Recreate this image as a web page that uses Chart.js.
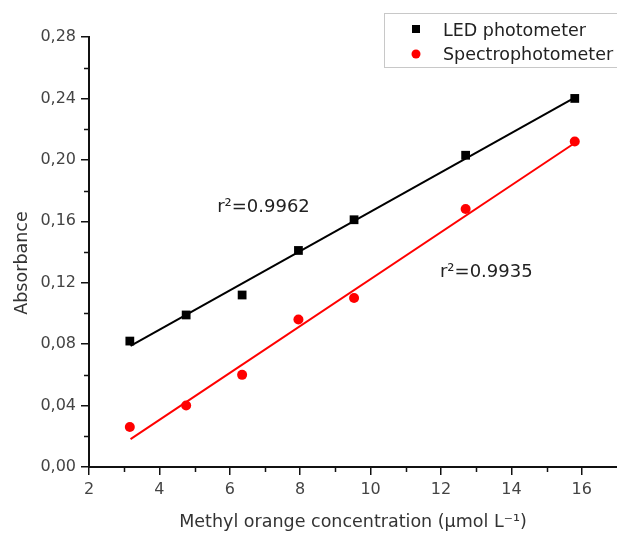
<!DOCTYPE html>
<html>
<head>
<meta charset="utf-8">
<script src="https://cdn.jsdelivr.net/npm/chart.js@4.4.0/dist/chart.umd.min.js"></script>
<style>
  html, body { margin: 0; padding: 0; background: #fff; overflow: hidden; }
  #wrap { width: 617px; height: 535px; }
</style>
</head>
<body>
<div id="wrap"><canvas id="myChart" width="617" height="535"></canvas></div>
<script>
// values
var concentration = [3.16, 4.76, 6.35, 7.95, 9.53, 12.7, 15.8];
var ledValues = [0.082, 0.099, 0.112, 0.141, 0.161, 0.203, 0.240];
var spectroValues = [0.026, 0.040, 0.060, 0.096, 0.110, 0.168, 0.212];

// fitted lines, end points as drawn
var fitX = [3.18, 15.8];
var ledFit = [0.0788, 0.2405];
var spectroFit = [0.0182, 0.2110];

var xTicks = [2, 4, 6, 8, 10, 12, 14, 16];
var yTicks = [0, 0.04, 0.08, 0.12, 0.16, 0.20, 0.24, 0.28];

var seriesNames = ['LED photometer', 'Spectrophotometer'];
var r2Labels = ['r\u00B2=0.9962', 'r\u00B2=0.9935'];

var FONT = 'DejaVu Sans';

function toPoints(xs, ys) {
    return xs.map(function (x, i) { return { x: x, y: ys[i] }; });
}

var extras = {
    id: 'extras',
    afterDraw: function (chart) {
        var ctx = chart.ctx;
        var xs = chart.scales.x, ys = chart.scales.y;
        var area = chart.chartArea;
        ctx.save();

        // minor ticks
        ctx.strokeStyle = '#111';
        ctx.lineWidth = 1.5;
        ctx.beginPath();
        for (var i = 0; i < yTicks.length - 1; i++) {
            var py = Math.round(ys.getPixelForValue((yTicks[i] + yTicks[i + 1]) / 2)) + 0.5;
            ctx.moveTo(area.left - 5, py);
            ctx.lineTo(area.left, py);
        }
        for (var j = 0; j < xTicks.length - 1; j++) {
            var px = Math.round(xs.getPixelForValue((xTicks[j] + xTicks[j + 1]) / 2)) + 0.5;
            ctx.moveTo(px, area.bottom);
            ctx.lineTo(px, area.bottom + 5);
        }
        ctx.stroke();

        // y axis title
        ctx.save();
        ctx.translate(22, 263);
        ctx.rotate(-Math.PI / 2);
        ctx.font = '17.5px "' + FONT + '"';
        ctx.fillStyle = '#333';
        ctx.textAlign = 'center';
        ctx.textBaseline = 'middle';
        ctx.fillText('Absorbance', 0, 0);
        ctx.restore();

        // r2 labels
        ctx.font = '18px "' + FONT + '"';
        ctx.fillStyle = '#222';
        ctx.textAlign = 'left';
        ctx.textBaseline = 'alphabetic';
        ctx.fillText(r2Labels[0], xs.getPixelForValue(5.64), ys.getPixelForValue(0.1661));
        ctx.fillText(r2Labels[1], xs.getPixelForValue(11.97), ys.getPixelForValue(0.1237));

        // legend box
        ctx.strokeStyle = '#c8c8c8';
        ctx.lineWidth = 1;
        ctx.strokeRect(384.5, 13.5, 240, 54);
        ctx.fillStyle = '#000';
        ctx.fillRect(412, 25, 8, 8);
        ctx.fillStyle = '#ff0000';
        ctx.beginPath();
        ctx.arc(416, 54, 4.5, 0, Math.PI * 2);
        ctx.fill();
        ctx.font = '17.5px "' + FONT + '"';
        ctx.fillStyle = '#222';
        ctx.fillText(seriesNames[0], 443, 36);
        ctx.fillText(seriesNames[1], 443, 60);

        ctx.restore();
    }
};

var data = {
    datasets: [
        {
            label: seriesNames[0],
            data: toPoints(concentration, ledValues),
            pointStyle: 'rect',
            pointRadius: 6.2,
            backgroundColor: '#000',
            borderColor: '#000',
            borderWidth: 0,
            order: 1
        },
        {
            label: seriesNames[1],
            data: toPoints(concentration, spectroValues),
            pointStyle: 'circle',
            pointRadius: 5,
            backgroundColor: '#ff0000',
            borderColor: '#ff0000',
            borderWidth: 0,
            order: 1
        },
        {
            label: 'LED fit',
            data: toPoints(fitX, ledFit),
            showLine: true,
            pointRadius: 0,
            borderColor: '#000',
            borderWidth: 2,
            order: 2
        },
        {
            label: 'Spectro fit',
            data: toPoints(fitX, spectroFit),
            showLine: true,
            pointRadius: 0,
            borderColor: '#ff0000',
            borderWidth: 2,
            order: 2
        }
    ]
};

var config = {
    type: 'scatter',
    data: data,
    options: {
        responsive: false,
        animation: false,
        layout: { autoPadding: false, padding: { top: 37, right: 0, left: 0, bottom: 0 } },
        plugins: {
            legend: { display: false },
            tooltip: { enabled: false }
        },
        scales: {
            x: {
                type: 'linear',
                min: 2,
                max: 17,
                afterBuildTicks: function (scale) {
                    scale.ticks = xTicks.map(function (v) { return { value: v }; });
                },
                afterFit: function (scale) {
                    scale.height = 68;
                    scale.paddingRight = 0;
                },
                border: { display: true, color: '#111', width: 2 },
                grid: { drawOnChartArea: false, drawTicks: true, tickLength: 8, color: '#111', lineWidth: 1.5 },
                ticks: {
                    padding: 5,
                    maxRotation: 0,
                    color: '#444',
                    font: { family: FONT, size: 16 },
                    callback: function (v) { return String(v); }
                },
                title: {
                    display: true,
                    text: 'Methyl orange concentration (\u03BCmol L\u207B\u00B9)',
                    color: '#333',
                    font: { family: FONT, size: 17.5 },
                    padding: { top: 4, bottom: 2.5 }
                }
            },
            y: {
                type: 'linear',
                min: 0,
                max: 0.28,
                afterBuildTicks: function (scale) {
                    scale.ticks = yTicks.map(function (v) { return { value: v }; });
                },
                afterFit: function (scale) { scale.width = 89; },
                border: { display: true, color: '#111', width: 2 },
                grid: { drawOnChartArea: false, drawTicks: true, tickLength: 8, color: '#111', lineWidth: 1.5 },
                ticks: {
                    padding: 5,
                    color: '#444',
                    font: { family: FONT, size: 16 },
                    callback: function (v) { return v.toFixed(2).replace('.', ','); }
                }
            }
        }
    },
    plugins: [extras]
};

var myChart = new Chart(document.getElementById('myChart'), config);
</script>
</body>
</html>
